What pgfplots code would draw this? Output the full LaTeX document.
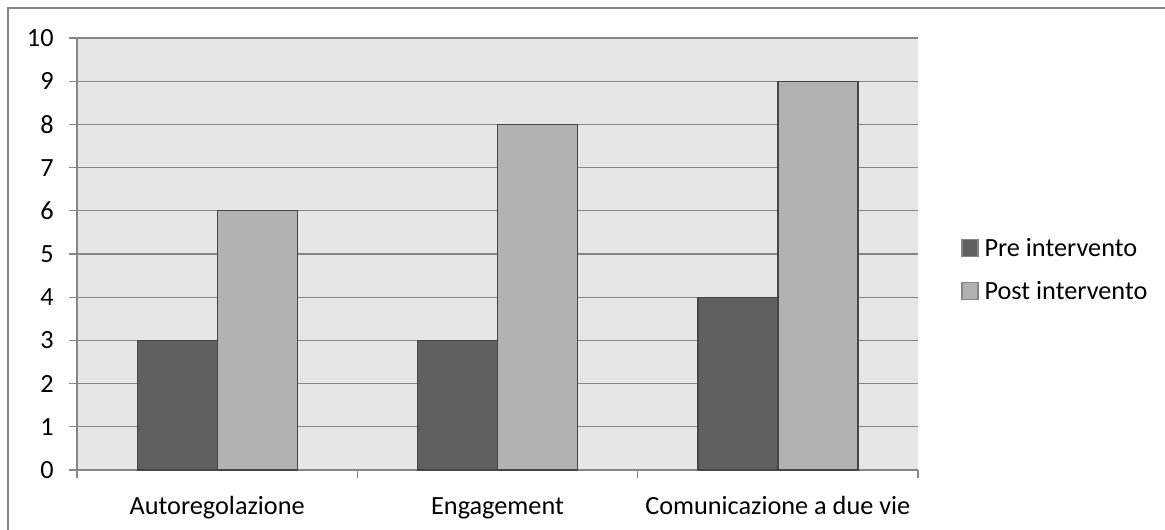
\documentclass[border=0pt]{standalone}
\usepackage{pgfplots}
\pgfplotsset{compat=1.18}
\usepackage{fontspec}
\setmainfont{Carlito}
\definecolor{pregray}{RGB}{96,96,96}
\definecolor{postgray}{RGB}{178,178,178}
\definecolor{bggray}{RGB}{230,230,230}
\definecolor{linegray}{RGB}{134,134,134}
\definecolor{edgegray}{RGB}{70,70,70}
\begin{document}
\begin{tikzpicture}
\path[use as bounding box] (0pt,0pt) rectangle (873.75pt,397.5pt);
\draw[linegray, line width=1pt] (6pt,0pt) -- (6pt,391.5pt) -- (873.75pt,391.5pt);
\begin{axis}[
  at={(57.75pt,45pt)}, anchor=south west,
  scale only axis, width=630.75pt, height=324pt,
  xmin=-0.5, xmax=2.5, ymin=0, ymax=10,
  ybar=0pt, bar width=60pt,
  axis background/.style={fill=bggray},
  axis x line=bottom, axis y line=left,
  axis line style={-, draw=linegray, line width=1pt},
  xtick={-0.5,0.5,1.5,2.5},
  xticklabels={},
  extra x ticks={0,1,2},
  extra x tick labels={Autoregolazione, Engagement, Comunicazione a due vie},
  extra x tick style={major tick length=0pt, grid=none,
    xticklabel style={anchor=base, yshift=-33.5pt}},
  ytick={0,1,...,10},
  tick style={draw=linegray, line width=1pt},
  tick align=outside, major tick length=6pt,
  ymajorgrids, grid style={draw=linegray, line width=1pt},
  tick label style={font=\fontsize{19.7}{23}\selectfont, text=black},
  /pgf/number format/assume math mode=true,
  yticklabel style={xshift=-8pt},
  legend style={at={(1.0511,0.5417)}, anchor=north west, draw=none, fill=none,
    font=\fontsize{19.7}{23}\selectfont, row sep=12.25pt, inner sep=0pt,
    nodes={inner sep=0pt, text height=15pt, text depth=5pt}},
  legend cell align=left,
  legend image code/.code={\draw[#1, draw=linegray, line width=1pt] (0pt,-5pt) rectangle (12pt,7.5pt); \path (16.5pt,0pt);},
  clip=false,
]
\addplot[fill=pregray, draw=edgegray, line width=1pt] coordinates {(0,3) (1,3) (2,4)};
\addplot[fill=postgray, draw=edgegray, line width=1pt] coordinates {(0,6) (1,8) (2,9)};
\legend{Pre intervento, Post intervento}
\end{axis}
\end{tikzpicture}
\end{document}
